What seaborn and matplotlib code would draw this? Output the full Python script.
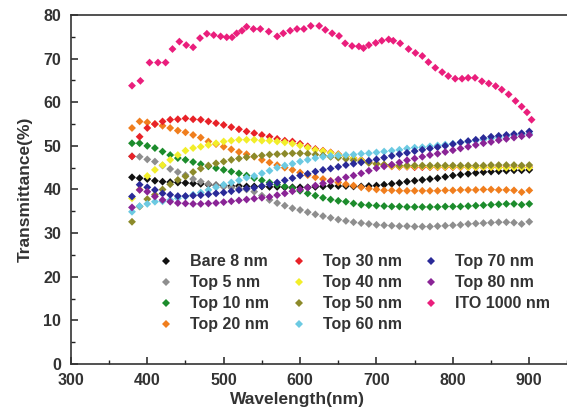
import numpy as np
import pandas as pd
import matplotlib
matplotlib.use("Agg")
import matplotlib.pyplot as plt
import seaborn as sns
from matplotlib.ticker import MultipleLocator

wavelength = list(range(380, 901, 10))

bare_8 = [42.8, 42.6, 42.4, 42.0, 41.8, 41.7, 41.6, 41.5, 41.4, 41.3, 41.1, 41.0, 40.9, 40.8, 40.8, 40.7,
          40.7, 40.7, 40.6, 40.6, 40.5, 40.5, 40.5, 40.5, 40.6, 40.7, 40.8, 40.8, 40.8, 40.7, 40.7, 40.8,
          40.9, 41.1, 41.3, 41.5, 41.8, 42.0, 42.2, 42.4, 42.6, 42.9, 43.2, 43.4, 43.6, 43.8, 44.0, 44.1,
          44.2, 44.3, 44.4, 44.4, 44.5]
top_5 = [47.6, 47.5, 46.9, 46.4, 45.5, 44.7, 44.0, 43.3, 42.4, 41.8, 41.3, 40.9, 40.6, 40.4, 40.2, 40.0,
         39.5, 38.6, 37.6, 36.9, 36.3, 35.7, 35.3, 34.8, 34.3, 33.9, 33.5, 33.1, 32.8, 32.5, 32.3, 32.1,
         31.9, 31.8, 31.7, 31.6, 31.6, 31.5, 31.5, 31.5, 31.6, 31.7, 31.8, 31.9, 32.1, 32.2, 32.3, 32.4,
         32.5, 32.5, 32.4, 32.1, 32.6]
top_10 = [50.6, 50.6, 50.0, 49.5, 48.7, 47.9, 47.2, 46.8, 46.3, 45.8, 45.3, 44.9, 44.5, 44.1, 43.7, 43.2,
          42.6, 42.1, 41.6, 41.1, 40.7, 40.3, 39.7, 39.1, 38.6, 38.1, 37.7, 37.4, 37.2, 36.8, 36.5, 36.4,
          36.3, 36.2, 36.1, 36.1, 36.0, 36.0, 36.0, 36.0, 36.0, 36.1, 36.1, 36.1, 36.2, 36.3, 36.4, 36.5,
          36.6, 36.7, 36.7, 36.5, 36.7]
top_20 = [54.1, 55.6, 55.4, 55.0, 54.6, 54.1, 53.5, 53.1, 52.5, 51.9, 51.0, 50.4, 49.8, 49.2, 48.6, 48.1,
          47.5, 46.8, 46.2, 45.6, 45.0, 44.5, 43.9, 43.3, 42.8, 42.4, 42.0, 41.6, 41.2, 40.9, 40.5, 40.2,
          40.0, 39.8, 39.8, 39.7, 39.7, 39.7, 39.7, 39.7, 39.7, 39.8, 39.8, 39.9, 39.9, 39.9, 40.0, 40.0,
          39.9, 39.9, 39.8, 39.4, 39.8]
top_30 = [47.6, 52.1, 54.1, 55.0, 55.6, 56.0, 56.1, 56.3, 56.1, 56.0, 55.6, 55.2, 54.8, 54.3, 53.8, 53.3,
          52.9, 52.5, 52.1, 51.6, 51.2, 51.0, 50.5, 49.9, 49.3, 48.9, 48.5, 48.1, 47.6, 47.2, 46.8, 46.3,
          45.9, 45.6, 45.3, 45.2, 45.2, 45.1, 45.1, 45.1, 45.1, 45.1, 45.1, 45.1, 45.1, 45.1, 45.1, 45.1,
          45.1, 45.1, 45.1, 45.1, 45.1]
top_40 = [38.0, 40.0, 43.1, 44.5, 45.6, 46.8, 47.9, 48.9, 49.5, 49.8, 50.2, 50.6, 51.0, 51.2, 51.4, 51.4,
          51.4, 51.2, 51.2, 51.0, 50.8, 50.5, 50.1, 49.6, 49.1, 48.8, 48.4, 48.0, 47.6, 47.2, 46.7, 46.2,
          45.8, 45.6, 45.4, 45.3, 45.3, 45.3, 45.3, 45.2, 45.2, 45.2, 45.2, 45.2, 45.1, 45.1, 45.1, 45.1,
          45.0, 45.0, 45.0, 45.0, 45.0]
top_50 = [32.6, 36.1, 37.8, 38.8, 40.0, 41.2, 42.2, 43.0, 44.0, 44.8, 45.5, 46.0, 46.4, 46.8, 47.1, 47.4,
          47.6, 47.8, 48.0, 48.1, 48.2, 48.3, 48.3, 48.2, 48.0, 47.8, 47.5, 47.3, 47.0, 46.7, 46.4, 46.1,
          45.9, 45.7, 45.6, 45.5, 45.5, 45.5, 45.5, 45.5, 45.5, 45.5, 45.5, 45.5, 45.5, 45.5, 45.5, 45.6,
          45.6, 45.6, 45.6, 45.5, 45.6]
top_60 = [34.9, 36.2, 36.7, 37.2, 37.3, 37.6, 38.0, 38.4, 38.8, 39.3, 39.9, 40.5, 41.1, 41.6, 42.1, 42.7,
          43.1, 43.7, 44.3, 45.0, 45.5, 45.9, 46.4, 46.8, 47.2, 47.5, 47.7, 47.8, 47.9, 48.0, 48.2, 48.3,
          48.5, 48.7, 48.9, 49.1, 49.4, 49.6, 49.7, 49.9, 50.1, 50.3, 50.5, 50.8, 51.0, 51.2, 51.4, 51.7,
          51.9, 52.2, 52.4, 52.6, 52.8]
top_70 = [38.4, 41.1, 40.5, 39.9, 39.1, 38.8, 38.5, 38.5, 38.6, 38.7, 38.9, 39.1, 39.3, 39.6, 39.9, 40.2,
          40.4, 40.8, 41.2, 41.6, 42.1, 42.6, 43.2, 43.6, 44.1, 44.5, 44.8, 45.2, 45.6, 45.9, 46.2, 46.6,
          46.9, 47.3, 47.7, 48.1, 48.4, 48.8, 49.1, 49.4, 49.7, 50.0, 50.4, 50.8, 51.1, 51.4, 51.8, 52.1,
          52.3, 52.5, 52.7, 52.9, 53.3]
top_80 = [35.9, 39.9, 39.5, 38.4, 37.6, 37.2, 36.9, 36.8, 36.7, 36.7, 36.8, 36.9, 37.1, 37.3, 37.5, 37.7,
          37.9, 38.1, 38.3, 38.7, 39.1, 39.6, 40.0, 40.4, 40.9, 41.4, 41.9, 42.3, 42.8, 43.2, 43.7, 44.3,
          44.9, 45.3, 45.7, 46.2, 46.7, 47.1, 47.5, 47.9, 48.2, 48.6, 49.0, 49.4, 49.8, 50.2, 50.6, 50.9,
          51.3, 51.6, 51.9, 52.2, 52.5]

ito_wavelength = [380, 391, 403, 414, 424, 433, 442, 451, 460, 469, 478, 487, 496, 504, 511, 517, 524,
                  530, 539, 548, 559, 570, 578, 587, 596, 605, 614, 625, 633, 642, 651, 659, 668, 677,
                  683, 690, 699, 707, 716, 722, 731, 742, 751, 760, 768, 777, 786, 794, 803, 812, 820,
                  829, 838, 847, 856, 864, 873, 882, 890, 897, 903]
ito_1000 = [63.8, 64.9, 69.1, 69.1, 69.1, 72.2, 73.9, 73.1, 72.6, 74.7, 75.7, 75.4, 75.1, 74.9, 74.9,
            75.8, 76.4, 77.3, 76.8, 76.8, 76.2, 75.1, 75.8, 76.4, 76.8, 76.8, 77.5, 77.5, 76.6, 75.8,
            75.2, 73.5, 72.9, 72.8, 72.4, 73.1, 73.6, 74.1, 74.4, 74.1, 73.5, 72.2, 71.3, 70.6, 69.2,
            67.9, 66.9, 66.0, 65.4, 65.4, 65.6, 65.6, 64.8, 64.3, 63.7, 62.9, 61.8, 60.3, 59.0, 57.7, 56.0]

labels = ["Bare 8 nm", "Top 5 nm", "Top 10 nm", "Top 20 nm", "Top 30 nm", "Top 40 nm",
          "Top 50 nm", "Top 60 nm", "Top 70 nm", "Top 80 nm", "ITO 1000 nm"]
colors = ["#111111", "#8e8e8e", "#1c8c2c", "#f07e1e", "#e82228", "#f2ee2a",
          "#8c8a2a", "#6ccae2", "#2a2a98", "#8a2496", "#ea1e7c"]
x_ticks = [300, 400, 500, 600, 700, 800, 900]

series = [bare_8, top_5, top_10, top_20, top_30, top_40, top_50, top_60, top_70, top_80]
frames = []
for lab, vals in zip(labels[:-1], series):
    frames.append(pd.DataFrame({"Wavelength": wavelength, "T": vals, "Sample": lab}))
frames.append(pd.DataFrame({"Wavelength": ito_wavelength, "T": ito_1000, "Sample": labels[-1]}))
df = pd.concat(frames, ignore_index=True)

sns.set_theme(style="white")
plt.rcParams['font.family'] = ['Liberation Sans', 'DejaVu Sans']

fig = plt.figure(figsize=(5.67, 4.12), dpi=100)
ax = fig.add_axes([0.1250, 0.1165, 0.9432, 0.8471])

sns.scatterplot(data=df, x="Wavelength", y="T", hue="Sample", hue_order=labels,
                palette=dict(zip(labels, colors)), marker="D", s=16, linewidth=0,
                ax=ax, legend=True)

ax.set_xlim(300, 1000)
ax.set_ylim(0, 80)
ax.set_xticks(x_ticks)
ax.xaxis.set_minor_locator(MultipleLocator(50))
ax.yaxis.set_major_locator(MultipleLocator(10))
ax.yaxis.set_minor_locator(MultipleLocator(5))
ax.tick_params(which="major", direction="in", length=5, width=1.1, color="#222222",
               labelsize=11.5, labelcolor="#333333", pad=7)
ax.tick_params(which="minor", direction="in", length=3, width=1.0, color="#222222")
ax.tick_params(axis="x", which="major", pad=6.5)
ax.tick_params(axis="x", which="both", top=False, bottom=True)
ax.tick_params(axis="y", which="both", left=True, right=False)
for lab in ax.get_xticklabels() + ax.get_yticklabels():
    lab.set_fontweight("bold")
for side in ["left", "bottom", "top", "right"]:
    ax.spines[side].set_color("#333333")
    ax.spines[side].set_linewidth(1.2)

ax.set_xlabel("Wavelength(nm)", fontsize=12.5, fontweight="bold", color="#333333")
ax.set_ylabel("Transmittance(%)", fontsize=12.5, fontweight="bold", color="#333333")
ax.xaxis.set_label_coords((298 - 70.9) / 534.8, -0.081)
ax.yaxis.set_label_coords(-0.072, 0.5)

handles, labs = ax.get_legend_handles_labels()
for h in handles:
    h.set_markersize(4)
leg = ax.legend(handles, labs, ncol=3, frameon=False, loc="upper left",
                bbox_to_anchor=((147 - 70.9) / 534.8, (364 - 243.2) / 349),
                prop={"weight": "bold", "size": 11.5},
                handletextpad=1.0, columnspacing=1.35, labelspacing=0.37,
                borderpad=0.2, handlelength=1.0)
for t in leg.get_texts():
    t.set_color("#333333")

fig.savefig("out.png", dpi=100)
